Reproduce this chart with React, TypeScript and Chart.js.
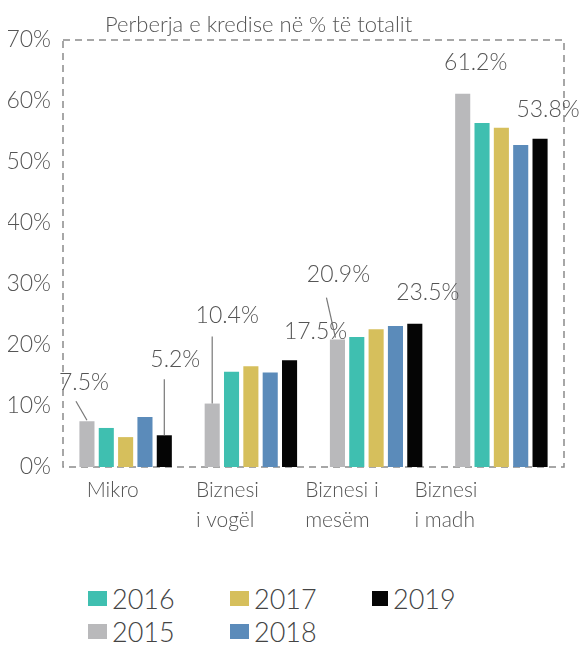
import React, { useEffect, useRef } from "react";
import { Chart, registerables } from "chart.js";

Chart.register(...registerables);

const categories: string[][] = [["Mikro"], ["Biznesi", "i vogël"], ["Biznesi i", "mesëm"], ["Biznesi", "i madh"]];
const years = ["2015", "2016", "2017", "2018", "2019"];
const v2015 = [7.5, 10.4, 20.9, 61.2];
const v2016 = [6.4, 15.6, 21.3, 56.4];
const v2017 = [4.9, 16.5, 22.6, 55.6];
const v2018 = [8.2, 15.5, 23.1, 52.8];
const v2019 = [5.2, 17.5, 23.5, 53.8];
const colors = ["#b9b9bb", "#3fbfb0", "#d6bf5c", "#5b8bba", "#050505"];
const yTicks = [0, 10, 20, 30, 40, 50, 60, 70];
const title = "Perberja e kredise në % të totalit";
// legend order as shown: row 1 then row 2
const legendOrder = [1, 2, 4, 0, 3];

// value labels: dataset, category, offset of label centre from bar top, optional leader line
const annotations = [
  { ds: 0, idx: 0, dx: -3, dy: -39, leader: [-11, -20, 0, -1] },
  { ds: 4, idx: 0, dx: 11, dy: -76, leader: [0, -56, 0, 0] },
  { ds: 0, idx: 1, dx: 15, dy: -88, leader: [0, -67, 0, 0] },
  { ds: 4, idx: 1, dx: 26, dy: -29 },
  { ds: 0, idx: 2, dx: 1, dy: -65, leader: [-11, -42, -2, -2] },
  { ds: 4, idx: 2, dx: 13, dy: -31 },
  { ds: 0, idx: 3, dx: 13, dy: -31 },
  { ds: 4, idx: 3, dx: 8, dy: -29 },
];

const FONT = "Lato, 'Open Sans', sans-serif";
const TEXT = "#555";

export default function App() {
  const ref = useRef<HTMLCanvasElement | null>(null);
  useEffect(() => {
    document.documentElement.style.overflow = "hidden";
    if (!ref.current) return;
    const series = [v2015, v2016, v2017, v2018, v2019];
    const framePlugin = {
      id: "frame",
      beforeDatasetsDraw(chart: any) {
        const { ctx, chartArea: a } = chart;
        ctx.save();
        ctx.strokeStyle = "#8a8a8a";
        ctx.lineWidth = 1.5;
        ctx.setLineDash([7, 5]);
        ctx.strokeRect(a.left, a.top, a.right - a.left, a.bottom - a.top);
        ctx.restore();
      },
      afterDraw(chart: any) {
        const { ctx, chartArea: a } = chart;
        const xs = chart.scales.x;
        ctx.save();
        // title
        ctx.fillStyle = TEXT;
        ctx.font = `300 22px ${FONT}`;
        ctx.textAlign = "left";
        ctx.textBaseline = "alphabetic";
        ctx.fillText(title, a.left + 42, a.top - 8);
        // category labels
        ctx.font = `300 21px ${FONT}`;
        ctx.textBaseline = "top";
        categories.forEach((lines, i) => {
          const x = xs.getPixelForValue(i) - 39 - 16 * i;
          lines.forEach((ln, j) => {
            ctx.fillText(ln, x, a.bottom + 13 + j * 30);
          });
        });
        // value labels
        ctx.font = `300 23px ${FONT}`;
        ctx.textAlign = "center";
        ctx.textBaseline = "middle";
        ctx.strokeStyle = "#777";
        ctx.lineWidth = 1.2;
        annotations.forEach((an) => {
          const bar = chart.getDatasetMeta(an.ds).data[an.idx];
          const bx = bar.x;
          const by = bar.y;
          if (an.leader) {
            ctx.beginPath();
            ctx.moveTo(bx + an.leader[0], by + an.leader[1]);
            ctx.lineTo(bx + an.leader[2], by + an.leader[3]);
            ctx.stroke();
          }
          const val = series[an.ds][an.idx];
          ctx.fillText(val.toFixed(1) + "%", bx + an.dx, by + an.dy);
        });
        ctx.restore();
      },
    };
    const chart = new Chart(ref.current, {
      type: "bar",
      data: {
        labels: categories.map((c) => c.join(" ")),
        datasets: years.map((y, i) => ({
          label: y,
          data: series[i],
          backgroundColor: colors[i],
          borderWidth: 0,
          categoryPercentage: 0.772,
          barPercentage: 0.78,
        })),
      },
      options: {
        animation: false,
        responsive: true,
        maintainAspectRatio: false,
        layout: { padding: { left: 0, right: 23, top: 32, bottom: 0 } },
        plugins: { legend: { display: false }, tooltip: { enabled: false } },
        scales: {
          x: {
            grid: { display: false },
            border: { display: false },
            ticks: { display: false },
            afterFit(scale: any) {
              scale.height = 86;
            },
          },
          y: {
            min: 0,
            max: 70,
            afterBuildTicks(scale: any) {
              scale.ticks = yTicks.map((v) => ({ value: v }));
            },
            grid: { display: false },
            border: { display: false },
            ticks: {
              padding: 4,
              color: TEXT,
              font: { family: FONT, size: 23, weight: "300" as any },
              callback: (v: any) => v + "%",
            },
            afterFit(scale: any) {
              scale.width = 55;
            },
          },
        },
      },
      plugins: [framePlugin],
    });
    return () => chart.destroy();
  }, []);

  return (
    <div style={{ width: 579, fontFamily: FONT }}>
      <div style={{ position: "relative", height: 545 }}>
        <canvas ref={ref} />
      </div>
      <div
        style={{
          display: "grid",
          gridTemplateColumns: "142px 142px 142px",
          gridAutoRows: "33px",
          paddingLeft: 80,
          marginTop: 29,
        }}
      >
        {legendOrder.map((i) => (
          <div
            key={years[i]}
            style={{
              display: "flex",
              alignItems: "center",
              height: 33,
              lineHeight: "33px",
              fontSize: 27,
              fontWeight: 300,
              color: "#444",
            }}
          >
            <span
              style={{
                display: "inline-block",
                width: i === 4 ? 16 : 19,
                height: 15,
                background: colors[i],
                marginRight: 5,
              }}
            />
            {years[i]}
          </div>
        ))}
      </div>
    </div>
  );
}
